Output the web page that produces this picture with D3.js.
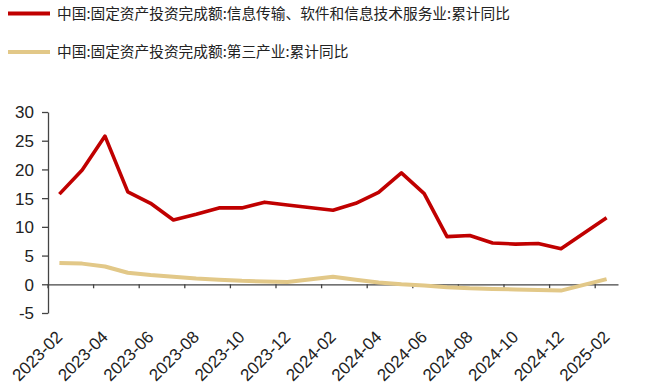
<!DOCTYPE html>
<html>
<head>
<meta charset="utf-8">
<script src="https://cdn.jsdelivr.net/npm/d3@7"></script>
<style>
  body { margin: 0; background: #fff; }
  .axis path, .axis line { stroke: #444; stroke-width: 1.3; }
  .axis text { font-family: "Liberation Sans", Arial, sans-serif; font-size: 17px; fill: #222; }
  .legend text { font-family: "Noto Sans CJK SC", sans-serif; font-size: 14.7px; fill: #222; }
</style>
</head>
<body>
<div id="chart"></div>
<script>
// 月份（1月无单独数据，合并到2月）
const months = [
  '2023-02', '2023-03', '2023-04', '2023-05', '2023-06', '2023-07', '2023-08',
  '2023-09', '2023-10', '2023-11', '2023-12', '2024-01', '2024-02', '2024-03',
  '2024-04', '2024-05', '2024-06', '2024-07', '2024-08', '2024-09', '2024-10',
  '2024-11', '2024-12', '2025-01', '2025-02'
];
const tickMonths = months.filter((d, i) => i % 2 === 0);
const yTicks = [-5, 0, 5, 10, 15, 20, 25, 30];

const itNames = '中国:固定资产投资完成额:信息传输、软件和信息技术服务业:累计同比';
const tertiaryName = '中国:固定资产投资完成额:第三产业:累计同比';

// 累计同比（%），null = 1月无数据
const itValues = [
  15.7, 19.9, 25.8, 16.1, 14.1, 11.2, 12.2, 13.3, 13.3, 14.3, 13.8, null, 12.9,
  14.1, 16.0, 19.4, 15.8, 8.3, 8.5, 7.2, 7.0, 7.1, 6.2, null, 11.6
];
const tertiaryValues = [
  3.7, 3.6, 3.1, 2.0, 1.6, 1.3, 1.0, 0.8, 0.6, 0.5, 0.4, null, 1.3,
  0.8, 0.3, 0.0, -0.2, -0.5, -0.7, -0.8, -0.9, -1.0, -1.1, null, 0.9
];

const series = [
  { name: itNames, values: itValues, color: '#c00000', width: 3.6 },
  { name: tertiaryName, values: tertiaryValues, color: '#e2c888', width: 4 }
];

const width = 654, height = 390;
const svg = d3.select('#chart').append('svg')
  .attr('width', width)
  .attr('height', height);

const x = d3.scaleBand().domain(months).range([48, 618]).padding(0);
const y = d3.scaleLinear().domain([-5, 30]).range([313, 112]);

// y 轴
svg.append('g')
  .attr('class', 'axis')
  .attr('transform', 'translate(48,0)')
  .call(d3.axisLeft(y).tickValues(yTicks).tickFormat(d => String(d))
    .tickSize(6).tickPadding(8).tickSizeOuter(0))
  .call(g => g.selectAll('text').attr('dy', '0.35em'));

// x 轴（位于 0 处）
const xAxis = svg.append('g')
  .attr('class', 'axis')
  .attr('transform', `translate(0,${y(0)})`)
  .call(d3.axisBottom(x).tickValues(tickMonths).tickSize(4).tickSizeOuter(0));

// 刻度线放在类别左边界
xAxis.selectAll('.tick line')
  .attr('x1', -x.bandwidth() / 2)
  .attr('x2', -x.bandwidth() / 2);

// 标签旋转 -45°，放在 -5 下方
xAxis.selectAll('.tick text')
  .attr('text-anchor', 'end')
  .attr('y', 0)
  .attr('dy', 0)
  .attr('transform', `translate(4,${338 - y(0)}) rotate(-45)`);

// 折线：跳过空值直接连线
const line = d3.line()
  .x(d => x(d.m) + x.bandwidth() / 2)
  .y(d => y(d.v));

series.slice().reverse().forEach(s => {
  const pts = months.map((m, i) => ({ m, v: s.values[i] })).filter(d => d.v !== null);
  svg.append('path')
    .datum(pts)
    .attr('fill', 'none')
    .attr('stroke', s.color)
    .attr('stroke-width', s.width)
    .attr('stroke-linejoin', 'round')
    .attr('d', line);
});

// 图例
const legend = svg.selectAll('.legend')
  .data(series)
  .enter()
  .append('g')
  .attr('class', 'legend')
  .attr('transform', (d, i) => `translate(8,${13.5 + i * 38.5})`);

legend.append('line')
  .attr('x1', 0).attr('x2', 42)
  .attr('stroke', d => d.color)
  .attr('stroke-width', 4);

legend.append('text')
  .attr('x', 49)
  .attr('dy', '0.35em')
  .text(d => d.name);
</script>
</body>
</html>
